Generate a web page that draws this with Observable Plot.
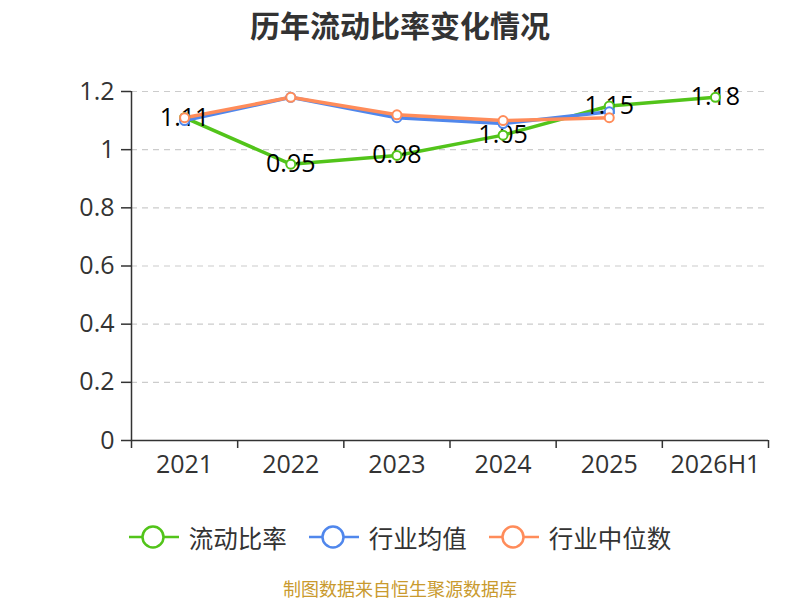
<!DOCTYPE html>
<html>
<head>
<meta charset="utf-8">
<script src="https://cdn.jsdelivr.net/npm/d3@7"></script>
<script src="https://cdn.jsdelivr.net/npm/@observablehq/plot@0.6"></script>
<style>
  body { margin: 0; background: #fff; font-family: "Open Sans", "Noto Sans CJK SC", sans-serif; }
  #wrap { width: 800px; height: 600px; position: relative; overflow: hidden; }
  #title { height: 48px; line-height: 48px; text-align: center; font-family: "Noto Sans CJK SC", sans-serif; font-weight: bold; font-size: 30px; color: #333; }
  #chart { height: 440px; }
  #legend { display: flex; justify-content: center; align-items: center; height: 40px; margin-top: 29px; font-family: "Noto Sans CJK SC", sans-serif; font-size: 24.5px; color: #333; }
  .item { display: flex; align-items: center; margin: 0 11px; }
  .item svg { margin-right: 10px; }
  #caption { text-align: center; font-family: "Noto Sans CJK SC", sans-serif; font-size: 18px; color: #c99a2e; margin-top: 19px; line-height: 24px; }
</style>
</head>
<body>
<div id="wrap">
  <div id="title">历年流动比率变化情况</div>
  <div id="chart"></div>
  <div id="legend"></div>
  <div id="caption">制图数据来自恒生聚源数据库</div>
</div>
<script>
const years = ["2021", "2022", "2023", "2024", "2025", "2026H1"];
const currentRatio = [1.11, 0.95, 0.98, 1.05, 1.15, 1.18];
const industryMean = [1.10, 1.18, 1.11, 1.09, 1.13];
const industryMedian = [1.11, 1.18, 1.12, 1.10, 1.11];
const yTicks = [0, 0.2, 0.4, 0.6, 0.8, 1, 1.2];
const seriesNames = ["流动比率", "行业均值", "行业中位数"];
const colors = ["#52c41a", "#5087ec", "#ff8c5a"];

const mk = (vals, name) => vals.map((v, i) => ({ x: i + 0.5, y: v, s: name }));
const green = mk(currentRatio, seriesNames[0]);
const blue = mk(industryMean, seriesNames[1]);
const orange = mk(industryMedian, seriesNames[2]);

const boundaries = d3.range(years.length + 1);
const centers = years.map((_, i) => i + 0.5);

const chart = Plot.plot({
  width: 800,
  height: 440,
  marginLeft: 131,
  marginRight: 32,
  marginTop: 43,
  marginBottom: 48,
  style: { fontFamily: "'Open Sans', 'Noto Sans CJK SC', sans-serif", fontSize: "25px", color: "#333", overflow: "visible" },
  x: { domain: [0, years.length], label: null },
  y: { domain: [0, 1.2], label: null },
  marks: [
    Plot.gridY(yTicks.filter(d => d > 0), { stroke: "#ccc", strokeOpacity: 1, strokeDasharray: "6,5", strokeWidth: 1.2 }),
    Plot.axisY({ ticks: yTicks, tickSize: 10, tickPadding: 7, tickFormat: d => String(d), stroke: "#333", strokeWidth: 1.5, fill: "#333", fontSize: 25, label: null }),
    Plot.axisX({ ticks: boundaries, tickSize: 8, tickFormat: () => "", stroke: "#333", strokeWidth: 1.5, label: null }),
    Plot.axisX({ ticks: centers, tickSize: 0, tickPadding: 15, tickFormat: d => years[Math.round(d - 0.5)], fill: "#333", fontSize: 25, label: null }),
    Plot.ruleX([0], { stroke: "#333", strokeWidth: 1.5 }),
    Plot.ruleY([0], { stroke: "#333", strokeWidth: 1.5 }),
    Plot.line(green, { x: "x", y: "y", stroke: colors[0], strokeWidth: 3.5 }),
    Plot.line(blue, { x: "x", y: "y", stroke: colors[1], strokeWidth: 3.5 }),
    Plot.line(orange, { x: "x", y: "y", stroke: colors[2], strokeWidth: 3.5 }),
    Plot.text(green, { x: "x", y: "y", text: d => d.y.toFixed(2), fill: "#000", fontSize: 25, dy: 0 }),
    Plot.dot(green, { x: "x", y: "y", r: 4.5, fill: "#fff", stroke: colors[0], strokeWidth: 2 }),
    Plot.dot(blue, { x: "x", y: "y", r: 4.5, fill: "#fff", stroke: colors[1], strokeWidth: 2 }),
    Plot.dot(orange, { x: "x", y: "y", r: 4.5, fill: "#fff", stroke: colors[2], strokeWidth: 2 })
  ]
});
document.getElementById("chart").appendChild(chart);

const legend = document.getElementById("legend");
seriesNames.forEach((name, i) => {
  const item = document.createElement("div");
  item.className = "item";
  item.innerHTML = `<svg width="50" height="26"><line x1="0" y1="13" x2="50" y2="13" stroke="${colors[i]}" stroke-width="2.5"/><circle cx="24" cy="13" r="10.5" fill="#fff" stroke="${colors[i]}" stroke-width="2.5"/></svg><span>${name}</span>`;
  legend.appendChild(item);
});
</script>
</body>
</html>
